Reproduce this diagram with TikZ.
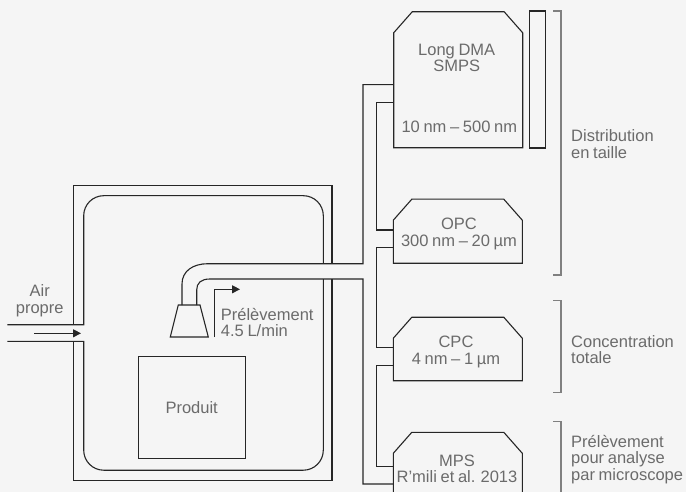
\documentclass[tikz,border=0pt]{standalone}
\usepackage{fontspec}
\setmainfont[WordSpace=0.8]{Liberation Sans}
\usetikzlibrary{arrows.meta,calc}
\definecolor{figback}{HTML}{F5F5F5}
\definecolor{figtext}{HTML}{6B6B6B}
\definecolor{figmid}{HTML}{808080}
\tikzset{
  fig/.style={font=\fontsize{16.5}{16.6}\selectfont,text=figtext},
  wall/.style={draw=black!85,line width=1.1pt},
  instr/.style={minimum width=129pt,inner sep=0pt,outer sep=0pt},
  lbl/.style={align=center,inner sep=0pt},
  note/.style={align=left,inner sep=0pt,anchor=west},
  ln/.style={-{Triangle[length=8pt,width=8pt]},wall},
  brk/.style={draw=figmid,line width=1.1pt},
}
\begin{document}
\begin{tikzpicture}[fig,x=1pt,y=-1pt]
\useasboundingbox (0,0) rectangle (686,492);
\fill[figback] (0,0) rectangle (686,492);
\clip (0,0) rectangle (686,492);

% instruments
\node[instr,minimum height=136pt] (dma) at (458.2,79.8) {};
\node[instr,minimum height=64pt] (opc) at (457.8,231.2) {};
\node[instr,minimum height=63.5pt] (cpc) at (457.8,349) {};
\node[instr,minimum height=80pt] (mps) at (457.8,472.3) {};
\foreach \b in {dma,opc,cpc,mps}
  \draw[wall] ($(\b.north west)+(0,21)$) -- ($(\b.north west)+(18.5,0)$) -- ($(\b.north east)+(-18.5,0)$)
    -- ($(\b.north east)+(0,21)$) -- (\b.south east) -- (\b.south west) -- cycle;
\node[wall,minimum width=16.4pt,minimum height=137pt,inner sep=0pt,outer sep=0pt] (column) at (537.4,79.5) {};
\node[wall,minimum width=106.7pt,minimum height=101.7pt,inner sep=0pt,outer sep=0pt] (produit) at (191.7,407.2) {Produit};
\coordinate (nozzleA) at (182,305);
\coordinate (nozzleB) at (196.7,305);
\draw[wall] (178.3,305) -- (200,305) -- (208.3,337) -- (170.3,337) -- cycle;

\node[lbl] (dmatxt) at (456.7,58) {Long DMA\\SMPS};
\node[lbl] (dmarange) at (459.3,127) {10 nm – 500 nm};
\node[lbl] (opctxt) at (459,234) {OPC\\300 nm – 20 µm};
\node[lbl] (cpctxt) at (456,352) {CPC\\4 nm – 1 µm};
\node[lbl] (mpstxt) at (457,469) {MPS\\R’mili et al. 2013};

% chamber
\draw[wall] (7.3,324.7) -- (83.7,324.7) [rounded corners=20pt] -- (83.7,195.7) -- (323.3,195.7) -- (323.3,263.7);
\draw[wall] (7.3,341.3) -- (83.7,341.3) [rounded corners=20pt] -- (83.7,470.2) -- (323.3,470.2) -- (323.3,279);
\draw[wall] (73.3,324.7) -- (73.3,185.7) -- (332,185.7) -- (332,263.7);
\draw[wall] (73.3,341.3) -- (73.3,480.7) -- (332,480.7) -- (332,279);
\coordinate (inlet) at (34,333.3);
\coordinate (inletend) at (81,333.3);
\draw[ln] (inlet) -- (inletend);
\node[lbl] (air) at (39.7,301) {Air\\propre};

% sampling line
\draw[wall] (nozzleA) -- (182,284) .. controls (182,271) and (193,263.7) .. (208,263.7)
  -- (363,263.7) -- (363,84.7) -- (dma.west |- 0,84.7);
\draw[wall] (nozzleB) -- (196.7,290) .. controls (196.7,283) and (201,279) .. (210,279)
  -- (363,279) -- (363,484) -- (mps.west |- 0,484);
\coordinate (flow) at (214.3,337);
\coordinate (flowend) at (240,289.3);
\draw[ln] (flow) |- (flowend);
\node[note] (flowtxt) at (220.7,322.5) {Prélèvement\\4.5 L/min};

% instrument links
\draw[wall] (dma.west |- 0,102.7) -- (376.4,102.7) -- (376.4,230) -- (opc.west |- 0,230);
\draw[wall] (opc.west |- 0,247.7) -- (376.4,247.7) -- (376.4,347.7) -- (cpc.west |- 0,347.7);
\draw[wall] (cpc.west |- 0,365.7) -- (376.4,365.7) -- (376.4,466.3) -- (mps.west |- 0,466.3);

% groups
\draw[brk] (553.3,11) -- (561,11) -- (561,275) -- (553.3,275);
\draw[brk] (553.3,300.7) -- (561,300.7) -- (561,392.7) -- (553.3,392.7);
\draw[brk] (553.3,421.3) -- (561,421.3) -- (561,500);
\node[note] (taille) at (571,144) {Distribution\\en taille};
\node[note] (conc) at (571,349.5) {Concentration\\totale};
\node[note] (micro) at (571,459.5) {Prélèvement\\pour analyse\\par microscope};
\end{tikzpicture}
\end{document}
